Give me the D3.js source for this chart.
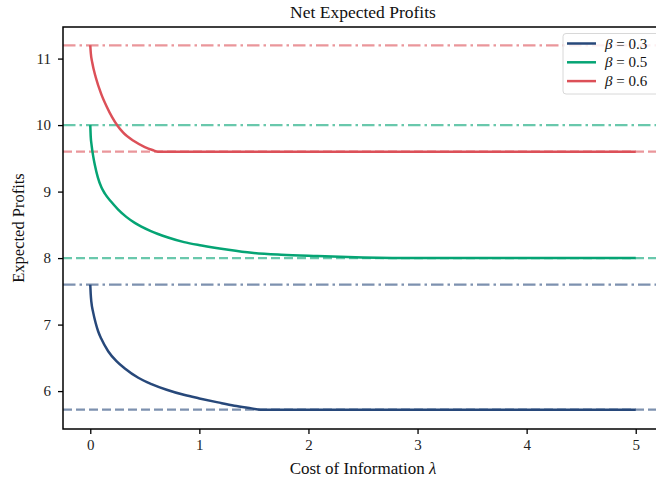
<!DOCTYPE html>
<html>
<head>
<meta charset="utf-8">
<script src="https://cdn.jsdelivr.net/npm/d3@7"></script>
<style>
  html, body { margin: 0; padding: 0; background: #fff; }
  svg { display: block; font-family: "Liberation Serif", "DejaVu Serif", serif; }
</style>
</head>
<body>
<svg id="chart" width="656" height="483"></svg>
<script>
// Net expected profits as the cost of information grows, one curve per beta
const betas = ["0.3", "0.5", "0.6"];
const colors = ["#27487a", "#05a474", "#dc5058"];

// Cost of information (lambda) sample points and profits for each beta
const lambda03 = [0, 0.004, 0.01, 0.027, 0.05, 0.072, 0.1, 0.164, 0.24, 0.317, 0.44, 0.561, 0.7, 0.866, 1.0, 1.17, 1.32, 1.48, 1.56, 2, 3, 4, 5];
const profit03 = [7.6, 7.46, 7.34, 7.18, 7.02, 6.9, 6.79, 6.6, 6.45, 6.34, 6.2, 6.105, 6.02, 5.94, 5.89, 5.83, 5.78, 5.74, 5.72, 5.72, 5.72, 5.72, 5.72];

const lambda05 = [0, 0.004, 0.012, 0.027, 0.042, 0.07, 0.103, 0.134, 0.19, 0.256, 0.33, 0.408, 0.55, 0.713, 0.86, 1.02, 1.25, 1.48, 1.75, 2.08, 2.5, 3, 4, 5];
const profit05 = [10.0, 9.83, 9.7, 9.53, 9.4, 9.21, 9.06, 8.97, 8.85, 8.73, 8.62, 8.53, 8.41, 8.31, 8.24, 8.19, 8.13, 8.08, 8.05, 8.03, 8.01, 8.0, 8.0, 8.0];

const lambda06 = [0, 0.005, 0.018, 0.05, 0.1, 0.15, 0.2, 0.25, 0.3, 0.4, 0.5, 0.57, 0.62, 1, 2, 3, 4, 5];
const profit06 = [11.2, 11.08, 10.94, 10.72, 10.47, 10.28, 10.12, 9.99, 9.89, 9.76, 9.67, 9.625, 9.6, 9.6, 9.6, 9.6, 9.6, 9.6];

// Reference levels: free information (dash-dot) and the flat floor (dashed)
const upperLevels = [7.6, 10.0, 11.2];
const lowerLevels = [5.72, 8.0, 9.6];

const xTicks = [0, 1, 2, 3, 4, 5];
const yTicks = [6, 7, 8, 9, 10, 11];

const series = [
  { beta: betas[0], lambda: lambda03, profit: profit03 },
  { beta: betas[1], lambda: lambda05, profit: profit05 },
  { beta: betas[2], lambda: lambda06, profit: profit06 }
];

const svg = d3.select("#chart");
const mLeft = 63, mRight = 663, mTop = 27, mBottom = 429;

const x = d3.scaleLinear().domain([-0.25, 5.25]).range([mLeft, mRight]);
const y = d3.scaleLinear().domain([5.43, 11.475]).range([mBottom, mTop]);

svg.append("clipPath").attr("id", "plotclip")
  .append("rect").attr("x", mLeft).attr("y", mTop)
  .attr("width", mRight - mLeft).attr("height", mBottom - mTop);

const lines = svg.append("g").attr("clip-path", "url(#plotclip)");

// Horizontal reference levels
series.forEach((s, i) => {
  lines.append("line")
    .attr("x1", mLeft).attr("x2", mRight)
    .attr("y1", y(upperLevels[i])).attr("y2", y(upperLevels[i]))
    .attr("stroke", colors[i]).attr("stroke-opacity", 0.6)
    .attr("stroke-width", 2.2)
    .attr("stroke-dasharray", "12.5,4,2.5,4");
  lines.append("line")
    .attr("x1", mLeft).attr("x2", mRight)
    .attr("y1", y(lowerLevels[i])).attr("y2", y(lowerLevels[i]))
    .attr("stroke", colors[i]).attr("stroke-opacity", 0.6)
    .attr("stroke-width", 2.2)
    .attr("stroke-dasharray", "9,4");
});

// Profit curves
const line = d3.line()
  .x(d => x(d[0]))
  .y(d => y(d[1]))
  .curve(d3.curveMonotoneX);

series.forEach((s, i) => {
  const pts = s.lambda.map((l, k) => [l, s.profit[k]]);
  lines.append("path")
    .attr("d", line(pts))
    .attr("fill", "none")
    .attr("stroke", colors[i])
    .attr("stroke-width", 2.5)
    .attr("stroke-linejoin", "round");
});

// Axes
const xAxis = d3.axisBottom(x).tickValues(xTicks).tickFormat(d3.format("d")).tickSize(5).tickPadding(5);
const yAxis = d3.axisLeft(y).tickValues(yTicks).tickFormat(d3.format("d")).tickSize(5).tickPadding(7);

const gx = svg.append("g").attr("transform", `translate(0,${mBottom})`).call(xAxis);
const gy = svg.append("g").attr("transform", `translate(${mLeft},0)`).call(yAxis);
[gx, gy].forEach(g => {
  g.select(".domain").remove();
  g.selectAll(".tick line").attr("stroke", "#000").attr("stroke-width", 1.3);
  g.selectAll(".tick text").attr("fill", "#222").style("font-size", "15px")
    .style("font-family", "'Liberation Serif', serif");
});

// Frame
svg.append("rect")
  .attr("x", mLeft).attr("y", mTop).attr("width", mRight - mLeft).attr("height", mBottom - mTop)
  .attr("fill", "none").attr("stroke", "#000").attr("stroke-width", 1.5);

// Titles
svg.append("text")
  .attr("x", (mLeft + mRight) / 2).attr("y", 18)
  .attr("text-anchor", "middle")
  .style("font-size", "17.5px").attr("fill", "#111")
  .text("Net Expected Profits");

const xl = svg.append("text")
  .attr("x", (mLeft + mRight) / 2).attr("y", 474)
  .attr("text-anchor", "middle")
  .style("font-size", "17px").attr("fill", "#111");
xl.append("tspan").text("Cost of Information ");
xl.append("tspan").style("font-style", "italic").text("λ");

svg.append("text")
  .attr("transform", `translate(24,${(mTop + mBottom) / 2}) rotate(-90)`)
  .attr("text-anchor", "middle")
  .style("font-size", "16.5px").attr("fill", "#111")
  .text("Expected Profits");

// Legend
const lg = svg.append("g");
lg.append("rect")
  .attr("x", 563).attr("y", 33.5).attr("width", 110).attr("height", 60.5)
  .attr("rx", 3).attr("fill", "#fff").attr("fill-opacity", 0.85)
  .attr("stroke", "#d8d8d8").attr("stroke-width", 1);

series.forEach((s, i) => {
  const yy = 43.5 + i * 18.8;
  lg.append("line")
    .attr("x1", 567).attr("x2", 596).attr("y1", yy).attr("y2", yy)
    .attr("stroke", colors[i]).attr("stroke-width", 2.5);
  const t = lg.append("text")
    .attr("x", 605).attr("y", yy + 5)
    .style("font-size", "15px").attr("fill", "#111");
  t.append("tspan").style("font-style", "italic").text("β");
  t.append("tspan").text(" = " + s.beta);
});
</script>
</body>
</html>
